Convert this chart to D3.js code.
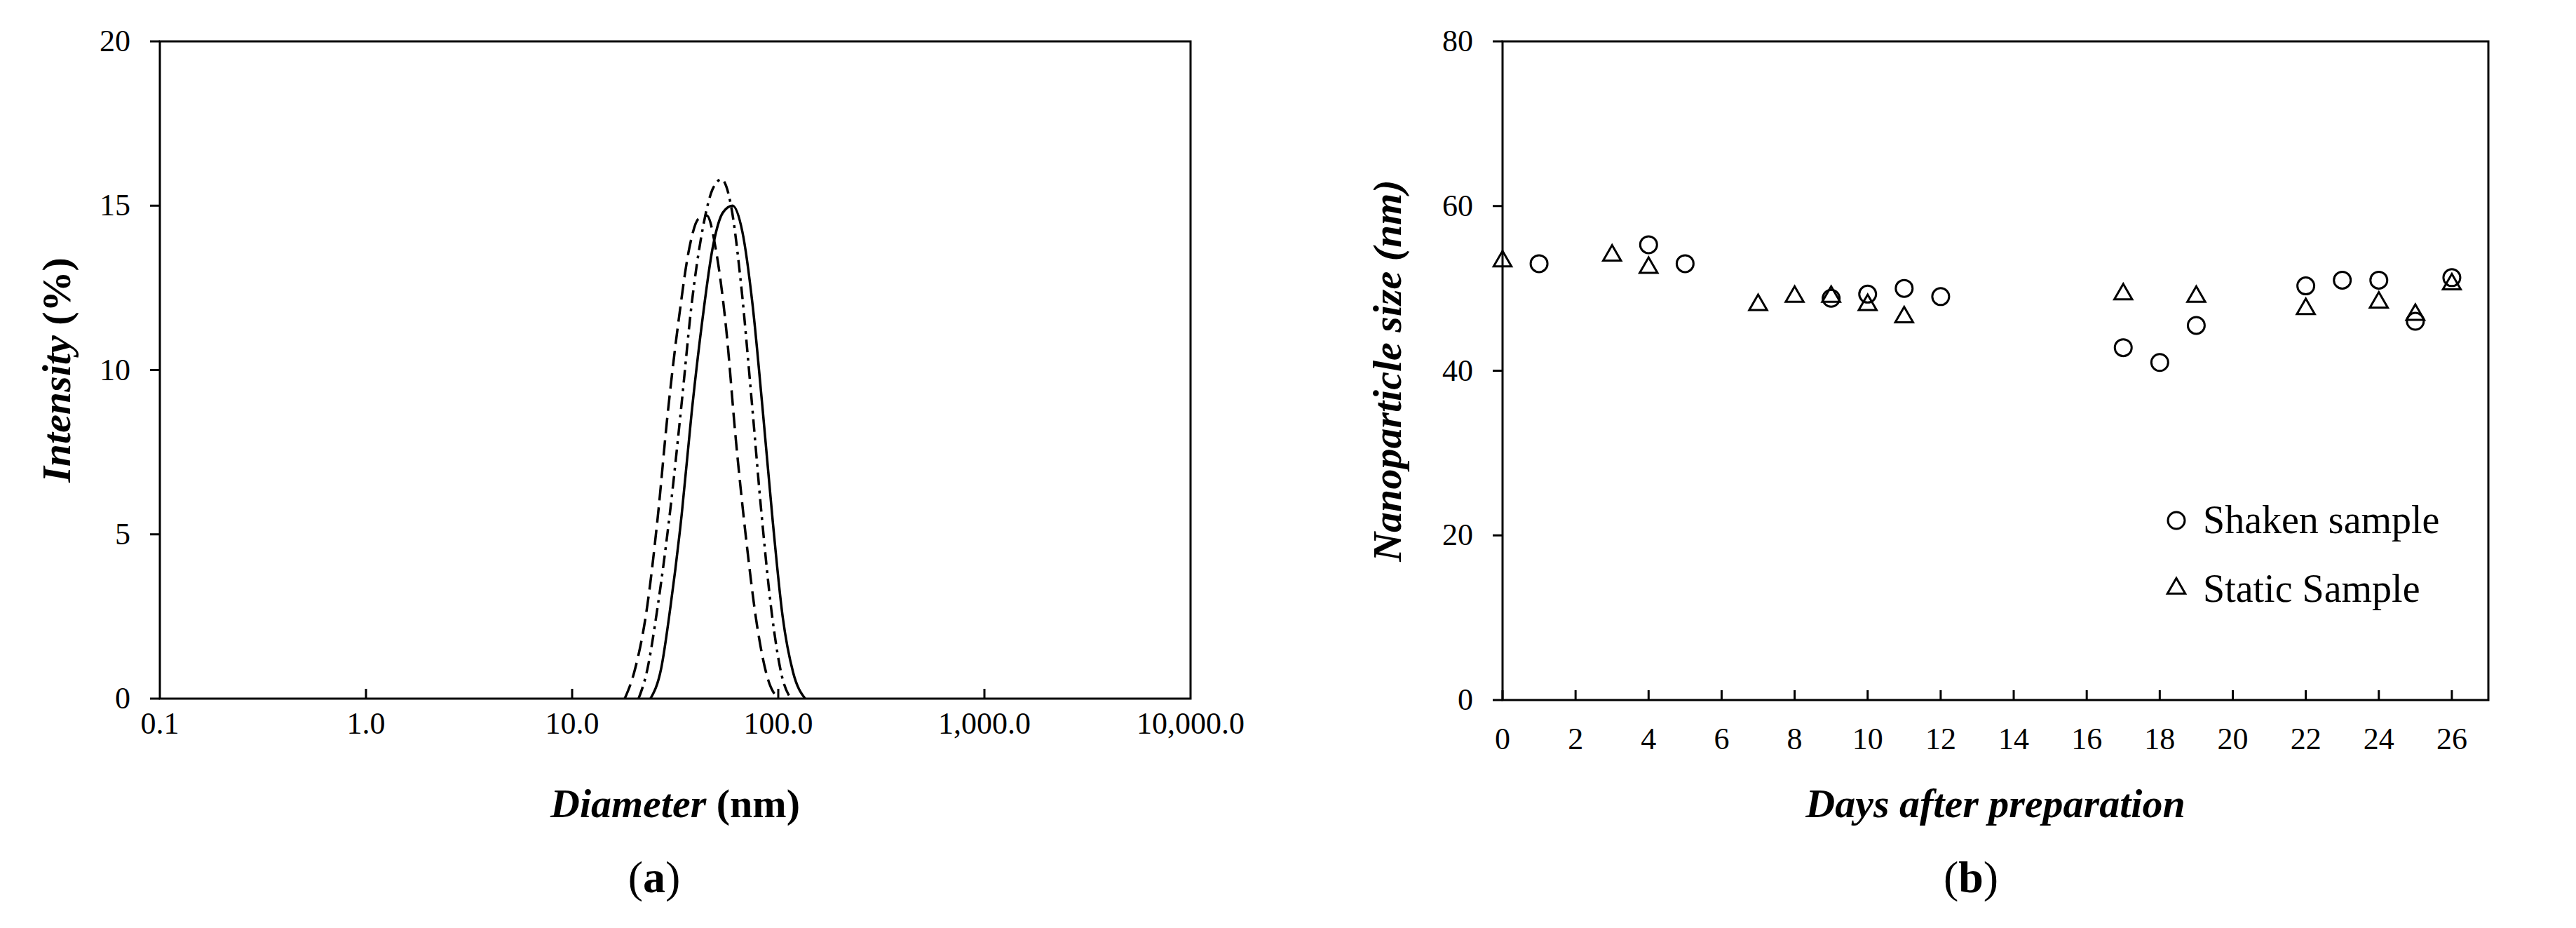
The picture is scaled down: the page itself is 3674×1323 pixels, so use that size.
<!DOCTYPE html>
<html><head><meta charset="utf-8">
<script src="https://cdn.jsdelivr.net/npm/d3@7/dist/d3.min.js"></script>
<style>body{margin:0;background:#fff}svg{display:block}text{font-family:"Liberation Serif","DejaVu Serif",serif;fill:#000}</style>
</head><body><svg id="c" width="3674" height="1323"></svg>
<script>
// Panel (a) data
const diamSolid = [24,27,30,34,38,43,48,54,60,67,75,84,94,105,118,135];
const intSolid  = [0,0.9,2.8,5.6,8.7,11.6,13.7,14.8,15.0,14.2,12.0,8.8,5.4,2.5,0.8,0];
const diamDash = [18,20,23,26,29,33,37,41,45,50,56,62,70,79,89,100];
const intDash  = [0,0.8,2.7,5.5,8.6,11.6,13.7,14.6,14.7,13.6,11.2,8.0,4.8,2.2,0.6,0];
const diamDashDot = [21,23,26,30,34,38,43,48,53,59,66,74,83,93,104,115];
const intDashDot  = [0,0.8,2.8,5.8,9.0,12.0,14.3,15.5,15.8,15.0,12.6,9.2,5.6,2.6,0.7,0];
const xTicksA = [0.1,1,10,100,1000,10000];
const xTickLabelsA = ["0.1","1.0","10.0","100.0","1,000.0","10,000.0"];
const yTicksA = [0,5,10,15,20];
// Panel (b) data
const daysShaken = [1,4,5,9,10,11,12,17,18,19,22,23,24,25,26];
const sizeShaken = [53,55.3,53,48.8,49.3,50,49,42.8,41,45.5,50.3,51,51,46,51.3];
const daysStatic = [0,3,4,7,8,9,10,11,17,19,22,24,25,26];
const sizeStatic = [53.3,54,52.5,48,49,49,48,46.5,49.3,49,47.5,48.3,46.8,50.5];
const xTicksB = d3.range(0,27,2);
const yTicksB = [0,20,40,60,80];

const svg = d3.select("#c");
const fs = 44, ts = 58;

// ---- Panel A
const A = {l:228,r:1698,t:59,b:996};
const xa = d3.scaleLog().domain([0.1,10000]).range([A.l,A.r]);
const ya = d3.scaleLinear().domain([0,20]).range([A.b,A.t]);
const ga = svg.append("g");
ga.append("rect").attr("x",A.l).attr("y",A.t).attr("width",A.r-A.l).attr("height",A.b-A.t).attr("fill","none").attr("stroke","#000").attr("stroke-width",3);
xTicksA.forEach((v,i)=>{
  if(i>0&&i<xTicksA.length-1) ga.append("line").attr("x1",xa(v)).attr("x2",xa(v)).attr("y1",A.b).attr("y2",A.b-14).attr("stroke","#000").attr("stroke-width",3);
  ga.append("text").attr("x",xa(v)).attr("y",A.b+50).attr("text-anchor","middle").attr("font-size",fs).text(xTickLabelsA[i]);
});
yTicksA.forEach(v=>{
  ga.append("line").attr("x1",A.l).attr("x2",A.l-14).attr("y1",ya(v)).attr("y2",ya(v)).attr("stroke","#000").attr("stroke-width",3);
  ga.append("text").attr("x",A.l-42).attr("y",ya(v)+14).attr("text-anchor","end").attr("font-size",fs).text(v);
});
const line = d3.line().x(d=>xa(d[0])).y(d=>ya(d[1])).curve(d3.curveMonotoneX);
const series = [[diamSolid,intSolid,null],[diamDash,intDash,"22,10"],[diamDashDot,intDashDot,"18,8,4,8"]];
series.forEach(([d,v,da])=>{
  ga.append("path").attr("d",line(d.map((x,i)=>[x,v[i]]))).attr("fill","none").attr("stroke","#000").attr("stroke-width",3.5).attr("stroke-dasharray",da);
});
ga.append("text").attr("x",(A.l+A.r)/2).attr("y",1165).attr("text-anchor","middle").attr("font-size",ts).attr("font-weight","bold")
  .html('<tspan font-style="italic">Diameter</tspan> (nm)');
ga.append("text").attr("transform",`translate(100,${(A.t+A.b)/2}) rotate(-90)`).attr("text-anchor","middle").attr("font-size",ts).attr("font-weight","bold")
  .html('<tspan font-style="italic">Intensity</tspan> (%)');
ga.append("text").attr("x",(A.l+A.r)/2-30).attr("y",1272).attr("text-anchor","middle").attr("font-size",64).html('(<tspan font-weight="bold">a</tspan>)');

// ---- Panel B
const B = {l:2143,r:3549,t:59,b:998};
const xb = d3.scaleLinear().domain([0,27]).range([B.l,B.r]);
const yb = d3.scaleLinear().domain([0,80]).range([B.b,B.t]);
const gb = svg.append("g");
gb.append("rect").attr("x",B.l).attr("y",B.t).attr("width",B.r-B.l).attr("height",B.b-B.t).attr("fill","none").attr("stroke","#000").attr("stroke-width",3);
xTicksB.forEach(v=>{
  gb.append("line").attr("x1",xb(v)).attr("x2",xb(v)).attr("y1",B.b).attr("y2",B.b-14).attr("stroke","#000").attr("stroke-width",3);
  gb.append("text").attr("x",xb(v)).attr("y",B.b+70).attr("text-anchor","middle").attr("font-size",fs).text(v);
});
yTicksB.forEach(v=>{
  gb.append("line").attr("x1",B.l).attr("x2",B.l-14).attr("y1",yb(v)).attr("y2",yb(v)).attr("stroke","#000").attr("stroke-width",3);
  gb.append("text").attr("x",B.l-42).attr("y",yb(v)+14).attr("text-anchor","end").attr("font-size",fs).text(v);
});
const tri = d3.symbol().type(d3.symbolTriangle).size(280);
gb.selectAll(".sh").data(daysShaken).enter().append("circle").attr("cx",d=>xb(d)).attr("cy",(d,i)=>yb(sizeShaken[i])).attr("r",12).attr("fill","none").attr("stroke","#000").attr("stroke-width",3);
gb.selectAll(".st").data(daysStatic).enter().append("path").attr("d",tri).attr("transform",(d,i)=>`translate(${xb(d)},${yb(sizeStatic[i])})`).attr("fill","none").attr("stroke","#000").attr("stroke-width",3);
gb.append("circle").attr("cx",3104).attr("cy",742).attr("r",12).attr("fill","none").attr("stroke","#000").attr("stroke-width",3);
gb.append("path").attr("d",tri).attr("transform","translate(3104,839)").attr("fill","none").attr("stroke","#000").attr("stroke-width",3);
gb.append("text").attr("x",3142).attr("y",760).attr("font-size",56).text("Shaken sample");
gb.append("text").attr("x",3142).attr("y",858).attr("font-size",56).text("Static Sample");
gb.append("text").attr("x",(B.l+B.r)/2).attr("y",1165).attr("text-anchor","middle").attr("font-size",ts).attr("font-weight","bold").attr("font-style","italic").text("Days after preparation");
gb.append("text").attr("transform",`translate(1998,${(B.t+B.b)/2}) rotate(-90)`).attr("text-anchor","middle").attr("font-size",ts).attr("font-weight","bold").attr("font-style","italic").text("Nanoparticle size (nm)");
gb.append("text").attr("x",(B.l+B.r)/2-35).attr("y",1272).attr("text-anchor","middle").attr("font-size",64).html('(<tspan font-weight="bold">b</tspan>)');
</script></body></html>
